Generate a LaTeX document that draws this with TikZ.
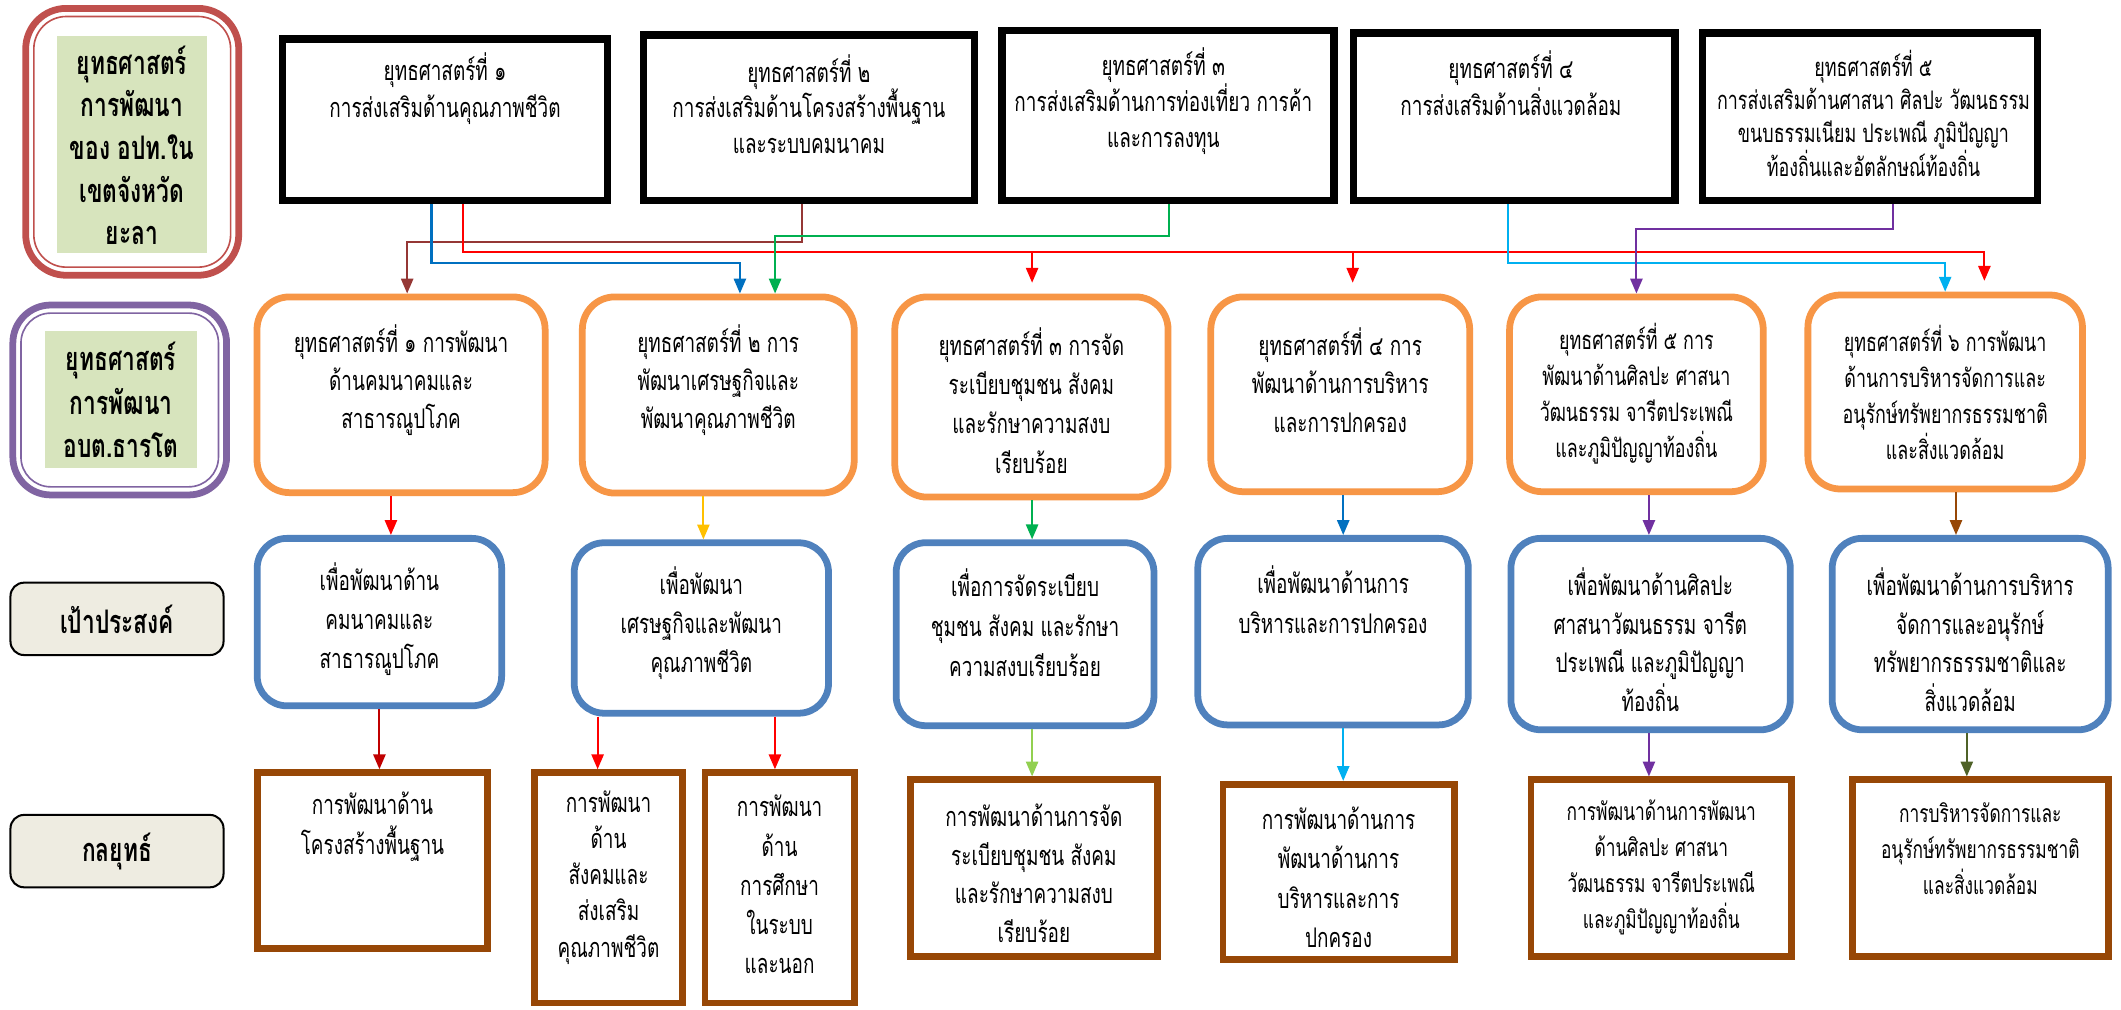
\documentclass[tikz,border=0pt]{standalone}
\usepackage{fontspec}
\newfontfamily\thaifont[Script=Thai,FakeStretch=0.7]{Loma}
\usetikzlibrary{arrows.meta}
\definecolor{orng}{HTML}{F79646}
\definecolor{blu}{HTML}{4F81BD}
\definecolor{brwn}{HTML}{974706}
\definecolor{lgreen}{HTML}{D7E4BD}
\definecolor{beige}{HTML}{EEECE1}
\definecolor{redb}{HTML}{C0504D}
\definecolor{purb}{HTML}{8064A2}
\definecolor{cred}{HTML}{FF0000}
\definecolor{cdred}{HTML}{C00000}
\definecolor{cbrown}{HTML}{953735}
\definecolor{cblue}{HTML}{0070C0}
\definecolor{cgreen}{HTML}{00B050}
\definecolor{ccyan}{HTML}{00B0F0}
\definecolor{cpurple}{HTML}{7030A0}
\definecolor{cyellow}{HTML}{FFC000}
\definecolor{clgreen}{HTML}{92D050}
\definecolor{colive}{HTML}{4F6228}
\tikzset{
  topbox/.style={draw=black, line width=5.5pt, fill=white, inner sep=0pt},
  obox/.style={draw=orng, line width=5pt, rounded corners=24pt, inner sep=0pt},
  bbox/.style={draw=blu, line width=5pt, rounded corners=22pt, inner sep=0pt},
  sbox/.style={draw=brwn, line width=5pt, inner sep=0pt},
  lab/.style={draw=black, line width=1.5pt, fill=beige, rounded corners=10pt, inner sep=0pt},
  gfill/.style={fill=lgreen, inner sep=0pt},
  conn/.style={line width=1.5pt, -{Triangle[length=11pt,width=9pt]}},
  tx/.style 2 args={align=center, inner sep=0pt, font=\thaifont\fontsize{#1}{#2}\selectfont},
  btx/.style 2 args={align=center, inner sep=0pt, font=\thaifont\bfseries\fontsize{#1}{#2}\selectfont},
}
\begin{document}
\begin{tikzpicture}[x=1pt,y=-1pt]
\useasboundingbox (0,0) rectangle (1568,746);
\fill[white] (0,0) rectangle (1568,746);

% left labels
\node[draw=redb, line width=5pt, rounded corners=30pt, minimum width=157.5pt, minimum height=197.3pt, inner sep=0pt] (L1) at (97.75,104.85) {};
\node[draw=redb, line width=1.2pt, rounded corners=24pt, minimum width=145.5pt, minimum height=185.3pt, inner sep=0pt] (L1i) at (97.75,104.85) {};
\node[gfill, minimum width=111pt, minimum height=160.4pt] (L1g) at (97.5,106.8) {};
\node[btx={24}{31.5}] (L1t) at (97.5,107.4) {ยุทธศาสตร์\\การพัฒนา\\ของ อปท.ใน\\เขตจังหวัด\\ยะลา};

\node[draw=purb, line width=5pt, rounded corners=28pt, minimum width=158pt, minimum height=140.4pt, inner sep=0pt] (L2) at (88.5,295.7) {};
\node[draw=purb, line width=1.2pt, rounded corners=22pt, minimum width=146pt, minimum height=128.4pt, inner sep=0pt] (L2i) at (88.5,295.7) {};
\node[gfill, minimum width=113pt, minimum height=101pt] (L2g) at (89.5,295.5) {};
\node[btx={24}{32}] (L2t) at (89.5,295.7) {ยุทธศาสตร์\\การพัฒนา\\อบต.ธารโต};

\node[lab, minimum width=157.5pt, minimum height=53.5pt] (G1) at (86.5,457.5) {};
\node[btx={24}{30}] (G1t) at (86.5,457.5) {เป้าประสงค์};
\node[lab, minimum width=157.5pt, minimum height=53.5pt] (G2) at (86.5,629.2) {};
\node[btx={24}{30}] (G2t) at (86.5,629.2) {กลยุทธ์};

% top boxes
\node[topbox, minimum width=240.5pt, minimum height=119.5pt] (t1) at (329,88.5) {};
\node[topbox, minimum width=244.5pt, minimum height=122.5pt] (t2) at (598,87) {};
\node[topbox, minimum width=245.3pt, minimum height=125.5pt] (t3) at (863.4,85.5) {};
\node[topbox, minimum width=237.5pt, minimum height=123.8pt] (t4) at (1119.5,86.35) {};
\node[topbox, minimum width=247.5pt, minimum height=123.8pt] (t5) at (1382.5,86.35) {};
\node[tx={20}{27.6}] (t1t) at (329,65.5) {ยุทธศาสตร์ที่ ๑\\การส่งเสริมด้านคุณภาพชีวิต};
\node[tx={20}{26.5}] (t2t) at (598,77) {ยุทธศาสตร์ที่ ๒\\การส่งเสริมด้านโครงสร้างพื้นฐาน\\และระบบคมนาคม};
\node[tx={20}{26.5}] (t3t) at (860,74.5) {ยุทธศาสตร์ที่ ๓\\การส่งเสริมด้านการท่องเที่ยว การค้า\\และการลงทุน};
\node[tx={20}{27}] (t4t) at (1117,61.5) {ยุทธศาสตร์ที่ ๔\\การส่งเสริมด้านสิ่งแวดล้อม};
\node[tx={18.9}{24.2}] (t5t) at (1385,84) {ยุทธศาสตร์ที่ ๕\\การส่งเสริมด้านศาสนา ศิลปะ วัฒนธรรม\\ขนบธรรมเนียม ประเพณี ภูมิปัญญา\\ท้องถิ่นและอัตลักษณ์ท้องถิ่น};

% orange boxes
\node[obox, minimum width=213pt, minimum height=144.7pt] (o1) at (296.5,291.85) {};
\node[obox, minimum width=201pt, minimum height=145pt] (o2) at (531,292) {};
\node[obox, minimum width=202pt, minimum height=148pt] (o3) at (762.5,293.5) {};
\node[obox, minimum width=191.4pt, minimum height=144pt] (o4) at (990.8,291.5) {};
\node[obox, minimum width=187.5pt, minimum height=144pt] (o5) at (1209.75,291.5) {};
\node[obox, minimum width=203pt, minimum height=143.4pt] (o6) at (1438,289.8) {};
\node[tx={20}{28.3}] (o1t) at (296.5,281) {ยุทธศาสตร์ที่ ๑ การพัฒนา\\ด้านคมนาคมและ\\สาธารณูปโภค};
\node[tx={20}{28.3}] (o2t) at (531,281) {ยุทธศาสตร์ที่ ๒ การ\\พัฒนาเศรษฐกิจและ\\พัฒนาคุณภาพชีวิต};
\node[tx={20}{29}] (o3t) at (762.5,296) {ยุทธศาสตร์ที่ ๓ การจัด\\ระเบียบชุมชน สังคม\\และรักษาความสงบ\\เรียบร้อย};
\node[tx={20}{28.3}] (o4t) at (990.8,281) {ยุทธศาสตร์ที่ ๔ การ\\พัฒนาด้านการบริหาร\\และการปกครอง};
\node[tx={18.9}{26.7}] (o5t) at (1209.75,291) {ยุทธศาสตร์ที่ ๕ การ\\พัฒนาด้านศิลปะ ศาสนา\\วัฒนธรรม จารีตประเพณี\\และภูมิปัญญาท้องถิ่น};
\node[tx={18.9}{26.7}] (o6t) at (1438,290) {ยุทธศาสตร์ที่ ๖ การพัฒนา\\ด้านการบริหารจัดการและ\\อนุรักษ์ทรัพยากรธรรมชาติ\\และสิ่งแวดล้อม};

% blue boxes
\node[bbox, minimum width=180.7pt, minimum height=123.8pt] (b1) at (280.5,459.9) {};
\node[bbox, minimum width=188pt, minimum height=126pt] (b2) at (518.5,464.25) {};
\node[bbox, minimum width=190.6pt, minimum height=135.3pt] (b3) at (757.8,468.85) {};
\node[bbox, minimum width=200pt, minimum height=137.9pt] (b4) at (985.5,466.95) {};
\node[bbox, minimum width=206.5pt, minimum height=141.5pt] (b5) at (1220.25,468.75) {};
\node[bbox, minimum width=204pt, minimum height=141.5pt] (b6) at (1456.5,468.75) {};
\node[tx={20}{29}] (b1t) at (280.5,457.6) {เพื่อพัฒนาด้าน\\คมนาคมและ\\สาธารณูปโภค};
\node[tx={20}{29}] (b2t) at (518.5,460.7) {เพื่อพัฒนา\\เศรษฐกิจและพัฒนา\\คุณภาพชีวิต};
\node[tx={20}{29.5}] (b3t) at (757.8,460.6) {เพื่อการจัดระเบียบ\\ชุมชน สังคม และรักษา\\ความสงบเรียบร้อย};
\node[tx={20}{29.6}] (b4t) at (985.5,443.5) {เพื่อพัฒนาด้านการ\\บริหารและการปกครอง};
\node[tx={20}{28.5}] (b5t) at (1220,472.8) {เพื่อพัฒนาด้านศิลปะ\\ศาสนาวัฒนธรรม จารีต\\ประเพณี และภูมิปัญญา\\ท้องถิ่น};
\node[tx={20}{28.5}] (b6t) at (1456.5,472.8) {เพื่อพัฒนาด้านการบริหาร\\จัดการและอนุรักษ์\\ทรัพยากรธรรมชาติและ\\สิ่งแวดล้อม};

% brown boxes
\node[sbox, minimum width=170.3pt, minimum height=129.8pt] (s1) at (275.35,636.1) {};
\node[sbox, minimum width=109pt, minimum height=170.3pt] (s2) at (449.85,656.35) {};
\node[sbox, minimum width=110.3pt, minimum height=170.3pt] (s3) at (576.35,656.35) {};
\node[sbox, minimum width=182.7pt, minimum height=130.6pt] (s4) at (764.35,641.8) {};
\node[sbox, minimum width=170.9pt, minimum height=129.7pt] (s5) at (989.55,644.65) {};
\node[sbox, minimum width=192.7pt, minimum height=130.6pt] (s6) at (1228.15,641.8) {};
\node[sbox, minimum width=189pt, minimum height=130.6pt] (s7) at (1464,641.8) {};
\node[tx={20}{29.6}] (s1t) at (275.35,611.1) {การพัฒนาด้าน\\โครงสร้างพื้นฐาน};
\node[tx={20}{26.75}] (s2t) at (449.85,648.6) {การพัฒนา\\ด้าน\\สังคมและ\\ส่งเสริม\\คุณภาพชีวิต};
\node[tx={20}{29}] (s3t) at (576.35,654) {การพัฒนา\\ด้าน\\การศึกษา\\ในระบบ\\และนอก};
\node[tx={20}{28.7}] (s4t) at (764.35,645.6) {การพัฒนาด้านการจัด\\ระเบียบชุมชน สังคม\\และรักษาความสงบ\\เรียบร้อย};
\node[tx={20}{29}] (s5t) at (989.55,648.6) {การพัฒนาด้านการ\\พัฒนาด้านการ\\บริหารและการ\\ปกครอง};
\node[tx={18.3}{26.7}] (s6t) at (1228.15,641) {การพัฒนาด้านการพัฒนา\\ด้านศิลปะ ศาสนา\\วัฒนธรรม จารีตประเพณี\\และภูมิปัญญาท้องถิ่น};
\node[tx={18.3}{26.5}] (s7t) at (1464,627.5) {การบริหารจัดการและ\\อนุรักษ์ทรัพยากรธรรมชาติ\\และสิ่งแวดล้อม};

% helper coordinates above orange boxes
\coordinate (r3) at ([yshift=8pt]o3.north);
\coordinate (r4) at ([yshift=8pt]o4.north);
\coordinate (r6) at ([yshift=8pt]o6.north);

% connectors top -> orange
\draw[conn, cbrown] ([xshift=-5pt]t2.south) |- (301,178.6) -- (o1.north -| 301,0);
\draw[conn, cred] ([xshift=13pt]t1.south) |- (1467,186.5) -- (r6 -| 1467,0);
\draw[conn, cred] (763,186.5) -- (r3 -| 763,0);
\draw[conn, cred] (1000,186.5) -- (r4 -| 1000,0);
\draw[conn, cblue] ([xshift=-10pt]t1.south) |- (547,194.7) -- (o2.north -| 547,0);
\draw[conn, cgreen] ([xshift=1pt]t3.south) |- (573,174.3) -- (o2.north -| 573,0);
\draw[conn, ccyan] ([xshift=-5pt]t4.south) |- (1438,194.7) -- (o6.north);
\draw[conn, cpurple] ([xshift=17pt]t5.south) |- (1209.75,169.6) -- (o5.north);

% orange -> blue
\draw[conn, cred] (o1.south -| 289,0) -- (b1.north -| 289,0);
\draw[conn, cyellow] (o2.south -| 520,0) -- (b2.north -| 520,0);
\draw[conn, cgreen] (o3.south -| 763,0) -- (b3.north -| 763,0);
\draw[conn, cblue] (o4.south -| 993,0) -- (b4.north -| 993,0);
\draw[conn, cpurple] (o5.south -| 1219,0) -- (b5.north -| 1219,0);
\draw[conn, brwn] (o6.south -| 1446,0) -- (b6.north -| 1446,0);

% blue -> brown
\draw[conn, cdred] (b1.south -| 280.5,0) -- (s1.north -| 280.5,0);
\draw[conn, cred] (b2.south -| 441.8,0) -- (s2.north -| 441.8,0);
\draw[conn, cred] (b2.south -| 572.9,0) -- (s3.north -| 572.9,0);
\draw[conn, clgreen] (b3.south -| 763,0) -- (s4.north -| 763,0);
\draw[conn, ccyan] (b4.south -| 993,0) -- (s5.north -| 993,0);
\draw[conn, cpurple] (b5.south -| 1219,0) -- (s6.north -| 1219,0);
\draw[conn, colive] (b6.south -| 1454,0) -- (s7.north -| 1454,0);
\end{tikzpicture}
\end{document}
